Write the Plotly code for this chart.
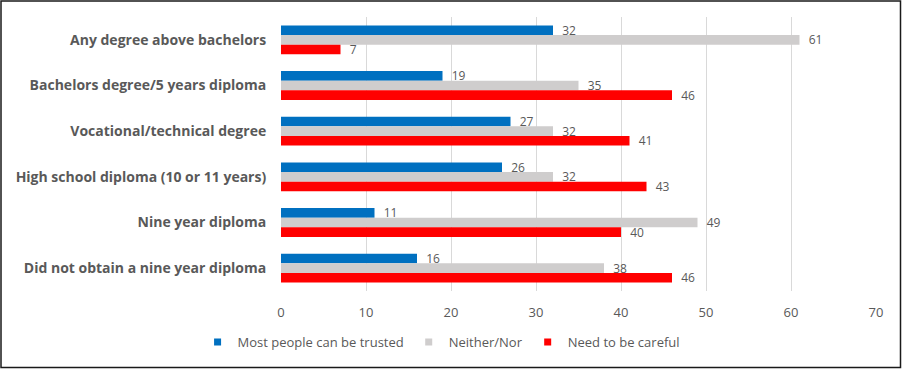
import plotly.graph_objects as go

categories = [
    "Any degree above bachelors",
    "Bachelors degree/5 years diploma",
    "Vocational/technical degree",
    "High school diploma (10 or 11 years)",
    "Nine year diploma",
    "Did not obtain a nine year diploma",
]
trusted = [32, 19, 27, 26, 11, 16]
neither = [61, 35, 32, 32, 49, 38]
careful = [7, 46, 41, 43, 40, 46]

series = [
    ("Most people can be trusted", trusted, "#0070C0"),
    ("Neither/Nor", neither, "#CFCDCD"),
    ("Need to be careful", careful, "#FF0000"),
]

W, H = 902, 369
ml, mr, mt, mb = 281, 26, 17, 78
FONT = "Open Sans"
NB = "\u00a0"

fig = go.Figure()
for name, vals, col in series:
    fig.add_trace(go.Bar(
        y=categories, x=vals, name=name, orientation="h",
        marker=dict(color=col, line=dict(width=0)),
        text=[NB * 2 + str(v) for v in vals], textposition="outside",
        constraintext="none",
        textfont=dict(color="#595959", size=12, family=FONT),
        cliponaxis=False, showlegend=False, hoverinfo="x+y",
    ))
for name, vals, col in series:
    fig.add_trace(go.Scatter(
        x=[None], y=[None], mode="markers", name=name,
        marker=dict(symbol="square", size=7, color=col),
        showlegend=True,
    ))

pw = W - ml - mr
ph = H - mt - mb
fig.add_shape(type="rect", xref="paper", yref="paper",
              x0=(-ml + 1) / pw, x1=1 + (mr - 1.5) / pw,
              y0=-(mb - 1.5) / ph, y1=1 + (mt - 1) / ph,
              line=dict(color="#1a1a1a", width=1.5), fillcolor="rgba(0,0,0,0)")

fig.update_layout(
    width=W, height=H,
    margin=dict(l=ml, r=mr, t=mt, b=mb, pad=0, autoexpand=False),
    barmode="group", bargap=0.37, bargroupgap=0,
    plot_bgcolor="white", paper_bgcolor="white",
    font=dict(family=FONT, color="#595959", size=13),
    legend=dict(orientation="h", xref="container", yref="container",
                x=0.489, xanchor="center", y=1 - 342 / H, yanchor="middle",
                bgcolor="rgba(0,0,0,0)",
                font=dict(size=13, color="#595959", family=FONT),
                traceorder="normal", itemwidth=30, tracegroupgap=0),
    xaxis=dict(range=[0, 70], dtick=10, showgrid=True, gridcolor="#D9D9D9",
               gridwidth=1, zeroline=False, showline=False, automargin=False,
               tickfont=dict(size=13, color="#595959", family=FONT),
               ticks="outside", ticklen=9, tickcolor="rgba(0,0,0,0)"),
    yaxis=dict(autorange="reversed", showgrid=False, showline=False, automargin=False,
               ticks="outside", ticklen=11, tickcolor="rgba(0,0,0,0)",
               tickvals=categories,
               ticktext=[f"<b>{c}</b>" for c in categories],
               tickfont=dict(size=14, color="#595959", family=FONT)),
)

fig.write_html("out.html", config={"displayModeBar": False},
               post_script="document.body.style.margin='0';document.body.style.padding='0';")
